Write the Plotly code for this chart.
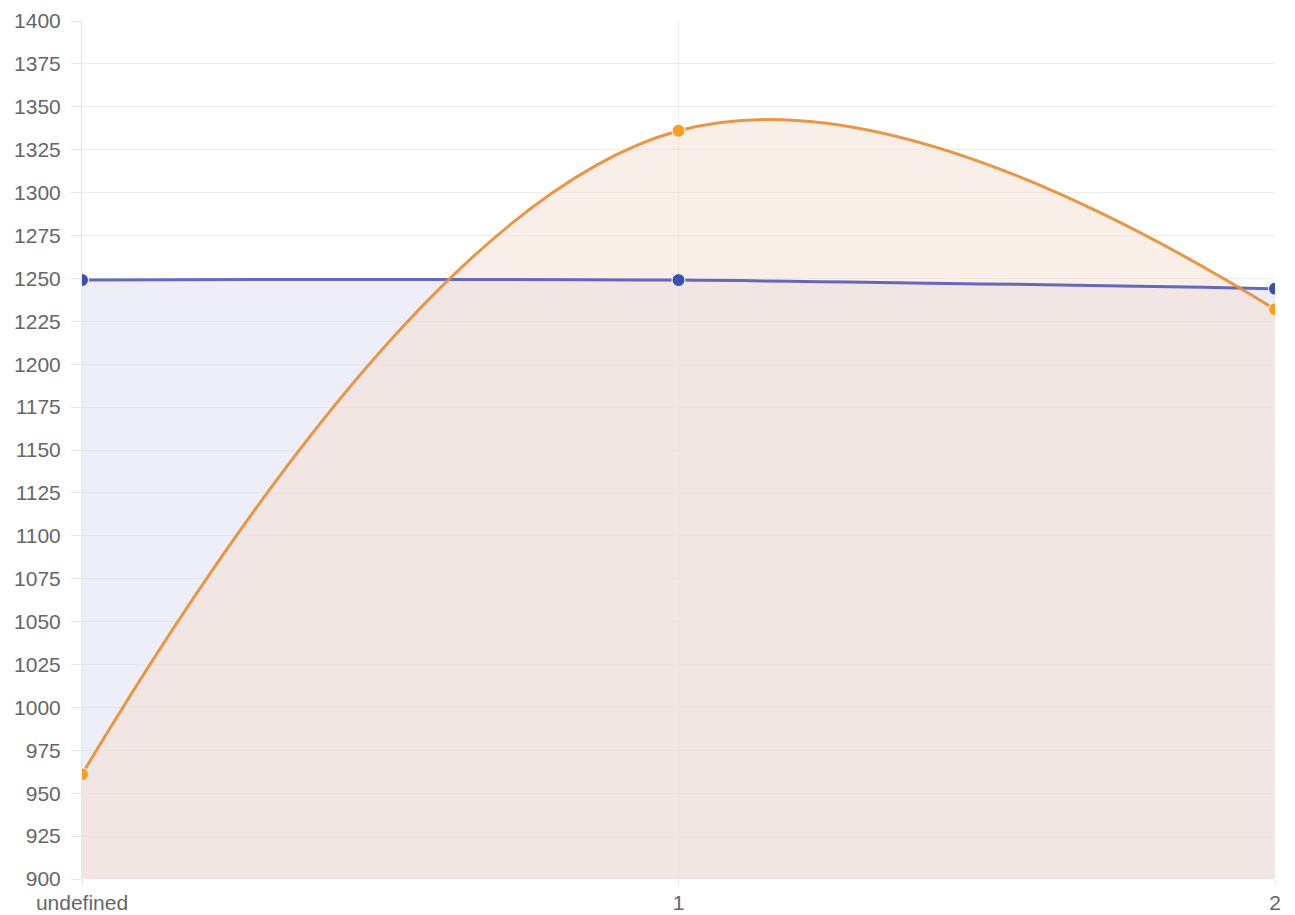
import plotly.graph_objects as go

categories = ["undefined", "1", "2"]
series_blue = [1249, 1249, 1244]
series_orange = [961, 1336, 1232]
y_ticks = list(range(900, 1401, 25))

fig = go.Figure()
# fills first
fig.add_trace(go.Scatter(
    x=categories, y=series_blue, mode="lines",
    line=dict(color="rgba(0,0,0,0)", width=0, shape="spline", smoothing=1),
    fill="tozeroy", fillcolor="rgba(221,221,241,0.5)", showlegend=False, hoverinfo="skip",
))
fig.add_trace(go.Scatter(
    x=categories, y=series_orange, mode="lines",
    line=dict(color="rgba(0,0,0,0)", width=0, shape="spline", smoothing=1.15),
    fill="tozeroy", fillcolor="rgba(246,222,210,0.5)", showlegend=False, hoverinfo="skip",
))
# lines and markers
fig.add_trace(go.Scatter(
    x=categories, y=series_blue, mode="lines+markers",
    line=dict(color="rgba(75,80,180,0.85)", width=3, shape="spline", smoothing=1),
    marker=dict(color="rgb(60,80,175)", size=13, line=dict(color="white", width=1)),
    showlegend=False,
))
fig.add_trace(go.Scatter(
    x=categories, y=series_orange, mode="lines+markers",
    line=dict(color="rgba(230,145,60,0.95)", width=3, shape="spline", smoothing=1.15),
    marker=dict(color="rgb(245,160,35)", size=13, line=dict(color="white", width=1)),
    showlegend=False,
))

fig.update_layout(
    width=1295, height=915,
    margin=dict(l=82, r=20, t=21, b=36),
    paper_bgcolor="white", plot_bgcolor="white",
    font=dict(family="Liberation Sans, Arial, sans-serif", size=21, color="#666"),
)
fig.update_xaxes(
    type="category", range=[0, 2], showgrid=True, gridcolor="rgba(0,0,0,0.07)",
    ticks="outside", ticklen=5, tickcolor="rgba(0,0,0,0.1)", showline=False,
    zeroline=False, tickfont=dict(size=21, color="#666"), automargin=False,
)
fig.update_yaxes(
    range=[900, 1400], tickvals=y_ticks, showgrid=True, gridcolor="rgba(0,0,0,0.07)",
    ticks="outside", ticklen=10, tickcolor="rgba(0,0,0,0.1)", zeroline=False,
    showline=True, linecolor="rgba(0,0,0,0.1)", tickfont=dict(size=21, color="#666"),
    automargin=False, ticklabelstandoff=6,
)
fig.write_html(
    "out.html",
    config={"displayModeBar": False},
    post_script="document.body.style.margin='0px';document.body.style.overflow='hidden';",
)
